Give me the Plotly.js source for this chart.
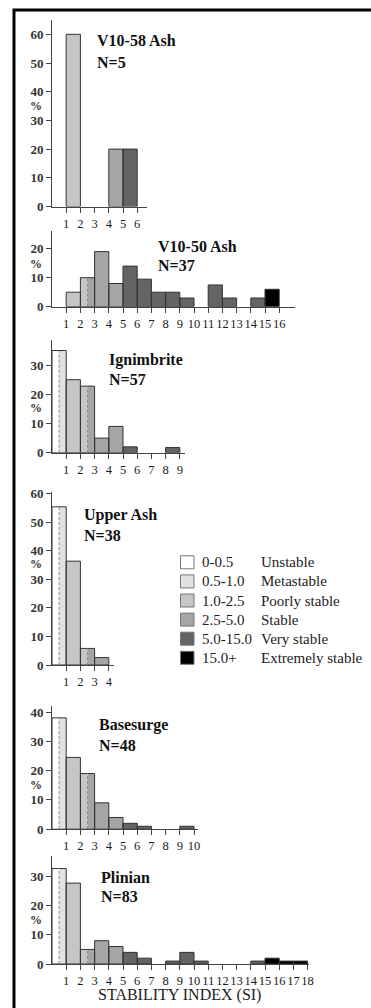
<!DOCTYPE html>
<html><head><meta charset="utf-8">
<script src="https://cdn.plot.ly/plotly-3.0.1.min.js"></script>
<style>html,body{margin:0;padding:0;background:#fff}#chart{width:371px;height:1008px}</style>
</head><body><div id="chart"></div>
<script>
// ---------- DATA (percent of samples per SI bin; bin k = SI from k to k+1) ----------
const panelNames = ["V10-58 Ash", "V10-50 Ash", "Ignimbrite", "Upper Ash", "Basesurge", "Plinian"];
const panelCounts = ["N=5", "N=37", "N=57", "N=38", "N=48", "N=83"];

const v1058Values = [0, 60, 0, 0, 20, 20];
const v1050Values = [0, 5, 10, 19, 8, 14, 9.5, 5, 5, 3, 0, 7.5, 3, 0, 3, 6];
const ignimbriteValues = [35, 25, 22.8, 5, 9, 2, 0, 0, 1.8];
const upperAshValues = [55.3, 36.3, 5.8, 2.6];
const basesurgeValues = [38, 24.5, 19, 9, 4, 2, 1, 0, 0, 1];
const plinianValues = [32.8, 27.8, 5, 8, 6, 4, 2, 0, 1, 4, 1, 0, 0, 0, 1, 2, 1, 1];

const v1058XTicks = [1, 2, 3, 4, 5, 6];
const v1050XTicks = [1, 2, 3, 4, 5, 6, 7, 8, 9, 10, 11, 12, 13, 14, 15, 16];
const ignimbriteXTicks = [1, 2, 3, 4, 5, 6, 7, 8, 9];
const upperAshXTicks = [1, 2, 3, 4];
const basesurgeXTicks = [1, 2, 3, 4, 5, 6, 7, 8, 9, 10];
const plinianXTicks = [1, 2, 3, 4, 5, 6, 7, 8, 9, 10, 11, 12, 13, 14, 15, 16, 17, 18];

const v1058YTicks = [0, 10, 20, 30, 40, 50, 60];
const v1050YTicks = [0, 10, 20];
const ignimbriteYTicks = [0, 10, 20, 30];
const upperAshYTicks = [0, 10, 20, 30, 40, 50, 60];
const basesurgeYTicks = [0, 10, 20, 30, 40];
const plinianYTicks = [0, 10, 20, 30];

// stability classes (lower SI bound of each class)
const classLowerBounds = [0, 0.5, 1.0, 2.5, 5.0, 15.0];
const classRanges = ["0-0.5", "0.5-1.0", "1.0-2.5", "2.5-5.0", "5.0-15.0", "15.0+"];
const classNames = ["Unstable", "Metastable", "Poorly stable", "Stable", "Very stable", "Extremely stable"];

const xAxisTitle = "STABILITY INDEX (SI)";
const yUnit = "%";

// ---------- STYLE / GEOMETRY ----------
const classColors = ["#ffffff", "#e2e2e2", "#c6c6c6", "#a5a5a5", "#646464", "#000000"];
const W = 371, H = 1008;
const px = x => x / W;
const py = y => 1 - y / H;
const X0 = 52, XUNIT = 14.2;
const geom = [
  {zero: 206.5, scale: 2.87, yMax: 65,   xEnd: 6.7,  tx: 95,  ty: 41,  ny: 62,  pct: 106},
  {zero: 306.7, scale: 2.90, yMax: 26,   xEnd: 17.1, tx: 156, ty: 246, ny: 266, pct: 264},
  {zero: 452.7, scale: 2.92, yMax: 38.5, xEnd: 9.4,  tx: 107, ty: 360, ny: 379, pct: 408},
  {zero: 665.0, scale: 2.86, yMax: 60.5, xEnd: 4.4,  tx: 82,  ty: 515, ny: 535, pct: 564},
  {zero: 829.2, scale: 2.93, yMax: 42,   xEnd: 10.3, tx: 97,  ty: 725, ny: 745, pct: 785},
  {zero: 964.0, scale: 2.91, yMax: 37,   xEnd: 18.1, tx: 99,  ty: 877, ny: 896, pct: 920}
];
const panelValues = [v1058Values, v1050Values, ignimbriteValues, upperAshValues, basesurgeValues, plinianValues];
const panelXTicks = [v1058XTicks, v1050XTicks, ignimbriteXTicks, upperAshXTicks, basesurgeXTicks, plinianXTicks];
const panelYTicks = [v1058YTicks, v1050YTicks, ignimbriteYTicks, upperAshYTicks, basesurgeYTicks, plinianYTicks];

const serif = "Liberation Serif, Times New Roman, serif";
const outline = "#333333";
const axisColor = "#444444";

function classOf(si) {
  let c = 0;
  for (let i = 0; i < classLowerBounds.length; i++) if (si >= classLowerBounds[i] - 1e-9) c = i;
  return c;
}

const traces = [];
const layout = {
  width: W, height: H,
  margin: {l: 0, r: 0, t: 0, b: 0},
  paper_bgcolor: "#ffffff", plot_bgcolor: "rgba(0,0,0,0)",
  showlegend: false, barmode: "overlay",
  font: {family: serif, color: "#222"},
  annotations: [], shapes: []
};

panelValues.forEach((vals, p) => {
  const g = geom[p];
  const s = p === 0 ? "" : String(p + 1);
  const xa = "x" + s, ya = "y" + s;
  const pieces = classColors.map(() => ({x: [], y: [], w: []}));
  const outX = [], outY = [];
  const splitX = [], splitY = [];
  vals.forEach((v, k) => {
    if (v <= 0) return;
    const cuts = [k];
    classLowerBounds.forEach(b => { if (b > k && b < k + 1) cuts.push(b); });
    cuts.push(k + 1);
    for (let i = 0; i < cuts.length - 1; i++) {
      const a = cuts[i], b = cuts[i + 1];
      const c = classOf(a);
      pieces[c].x.push((a + b) / 2); pieces[c].y.push(v); pieces[c].w.push(b - a);
      if (i > 0) { splitX.push(a, a, null); splitY.push(0, v, null); }
    }
    outX.push(k + 0.5); outY.push(v);
  });
  pieces.forEach((pc, c) => {
    if (!pc.x.length) return;
    traces.push({type: "bar", x: pc.x, y: pc.y, width: pc.w, xaxis: xa, yaxis: ya,
      marker: {color: classColors[c], line: {width: 0}}, hoverinfo: "skip"});
  });
  if (splitX.length) traces.push({type: "scatter", mode: "lines", x: splitX, y: splitY, xaxis: xa, yaxis: ya,
    line: {color: "#8a8a8a", width: 1, dash: "3px,2px"}, hoverinfo: "skip"});
  traces.push({type: "bar", x: outX, y: outY, width: outX.map(() => 1), xaxis: xa, yaxis: ya,
    marker: {color: "rgba(0,0,0,0)", line: {color: outline, width: 1}}, hoverinfo: "skip"});

  const top = g.zero - g.yMax * g.scale;
  layout["xaxis" + s] = {
    domain: [px(X0), px(X0 + g.xEnd * XUNIT)], range: [0, g.xEnd], anchor: ya,
    showline: true, linecolor: axisColor, linewidth: 1, showgrid: false, zeroline: false,
    ticks: "outside", ticklen: 5, tickcolor: axisColor, tickwidth: 1,
    tickvals: panelXTicks[p], ticktext: panelXTicks[p].map(String), tickangle: 0,
    tickfont: {family: serif, size: 12.5, color: "#1a1a1a"}, fixedrange: true
  };
  layout["yaxis" + s] = {
    domain: [py(g.zero), py(top)], range: [0, g.yMax], anchor: xa,
    showline: true, linecolor: axisColor, linewidth: 1, showgrid: false, zeroline: false,
    ticks: "outside", ticklen: 5, tickcolor: axisColor, tickwidth: 1,
    tickvals: panelYTicks[p], ticktext: panelYTicks[p].map(String),
    tickfont: {family: serif, size: 13, color: "#333", weight: "bold"}, fixedrange: true
  };
  layout.annotations.push(
    {xref: "paper", yref: "paper", x: px(g.tx), y: py(g.ty), xanchor: "left", yanchor: "middle",
     text: panelNames[p], showarrow: false, font: {family: serif, size: 16, color: "#111", weight: "bold"}},
    {xref: "paper", yref: "paper", x: px(g.tx), y: py(g.ny), xanchor: "left", yanchor: "middle",
     text: panelCounts[p], showarrow: false, font: {family: serif, size: 16, color: "#111", weight: "bold"}},
    {xref: "paper", yref: "paper", x: px(36), y: py(g.pct), xanchor: "center", yanchor: "middle",
     text: yUnit, showarrow: false, font: {family: serif, size: 12, color: "#333", weight: "bold"}}
  );
});

layout.annotations.push({xref: "paper", yref: "paper", x: px(179), y: py(995), xanchor: "center", yanchor: "middle",
  text: xAxisTitle, showarrow: false, font: {family: serif, size: 16, color: "#222"}});

classRanges.forEach((r, i) => {
  const cy = 562.3 + i * 19.1;
  layout.shapes.push({type: "rect", xref: "paper", yref: "paper",
    x0: px(180.5), x1: px(194), y0: py(cy + 6.5), y1: py(cy - 6.5),
    fillcolor: classColors[i], line: {color: "#777", width: 1}});
  layout.annotations.push(
    {xref: "paper", yref: "paper", x: px(200), y: py(cy), xanchor: "left", yanchor: "middle",
     text: r, showarrow: false, font: {family: serif, size: 15, color: "#222"}},
    {xref: "paper", yref: "paper", x: px(259), y: py(cy), xanchor: "left", yanchor: "middle",
     text: classNames[i], showarrow: false, font: {family: serif, size: 15, color: "#222"}});
});

layout.shapes.push({type: "rect", xref: "paper", yref: "paper",
  x0: px(14), x1: px(373), y0: py(1011), y1: py(10), line: {color: "#000", width: 3}, fillcolor: "rgba(0,0,0,0)"});

Plotly.newPlot("chart", traces, layout, {staticPlot: true, displayModeBar: false});
</script>
</body></html>
